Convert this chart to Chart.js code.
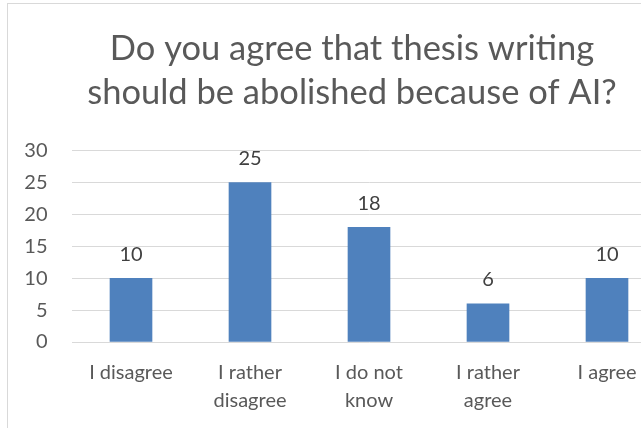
<!DOCTYPE html>
<html lang="en">
  <head>
    <meta charset="UTF-8" />
    <title>Thesis writing and AI</title>
    <script src="https://cdn.jsdelivr.net/npm/chart.js@4.4.1/dist/chart.umd.min.js"></script>
  </head>
  <body>
    <div class="frame"></div>
    <canvas id="myChart" width="700" height="428"></canvas>
    <script>
      const chartTitle = ["Do you agree that thesis writing", "should be abolished because of AI?"];
      const answers = [
        ["I disagree"],
        ["I rather", "disagree"],
        ["I do not", "know"],
        ["I rather", "agree"],
        ["I agree"],
      ];
      const counts = [10, 25, 18, 6, 10];
      const yTicks = [0, 5, 10, 15, 20, 25, 30];

      const fontFamily = "Lato, 'Open Sans', sans-serif";

      // value labels above each bar
      const barValues = {
        id: "barValues",
        afterDatasetsDraw(chart) {
          const ctx = chart.ctx;
          const meta = chart.getDatasetMeta(0);
          ctx.save();
          ctx.font = "20px " + fontFamily;
          ctx.fillStyle = "#404040";
          ctx.textAlign = "center";
          ctx.textBaseline = "middle";
          meta.data.forEach((bar, i) => {
            ctx.fillText(String(counts[i]), bar.x, bar.y - 24);
          });
          ctx.restore();
        },
      };

      new Chart("myChart", {
        type: "bar",
        data: {
          labels: answers,
          datasets: [
            {
              data: counts,
              backgroundColor: "#4f81bd",
              barThickness: 42,
            },
          ],
        },
        options: {
          responsive: false,
          animation: false,
          layout: { padding: { left: 25, right: 21, top: 0, bottom: -4 } },
          plugins: {
            legend: { display: false },
            tooltip: { enabled: false },
            title: {
              display: true,
              text: chartTitle,
              color: "#595959",
              font: { family: fontFamily, size: 34.5, weight: "normal", lineHeight: 1.3 },
              padding: { top: 26, bottom: 35 },
            },
          },
          scales: {
            x: {
              afterFit: (scale) => {
                scale.paddingLeft = 0;
                scale.paddingRight = 0;
              },
              grid: { display: false, drawTicks: false },
              border: { display: false },
              ticks: {
                color: "#595959",
                font: { family: fontFamily, size: 20, lineHeight: 1.4 },
                padding: 17,
                maxRotation: 0,
              },
            },
            y: {
              min: 0,
              max: 30,
              afterBuildTicks: (scale) => {
                scale.ticks = yTicks.map((v) => ({ value: v }));
              },
              afterFit: (scale) => {
                scale.width = 46.5;
              },
              grid: { color: "#d9d9d9", lineWidth: 1, drawTicks: false },
              border: { display: false },
              ticks: {
                color: "#595959",
                font: { family: fontFamily, size: 20 },
                padding: 24,
              },
            },
            // empty axis on the right, only to keep the title centred like the original
            yRight: {
              position: "right",
              min: 0,
              max: 30,
              afterFit: (scale) => {
                scale.width = 12.5;
              },
              grid: { display: false },
              border: { display: false },
              ticks: { display: false },
            },
          },
        },
        plugins: [barValues],
      });
    </script>
  </body>
  <style>
    body {
      margin: 0;
      overflow: hidden;
      background: #ffffff;
    }
    #myChart {
      position: absolute;
      left: 0;
      top: 0;
    }
    .frame {
      position: absolute;
      left: 7px;
      top: 3px;
      width: 720px;
      height: 520px;
      border: 1px solid #d9d9d9;
    }
  </style>
</html>
